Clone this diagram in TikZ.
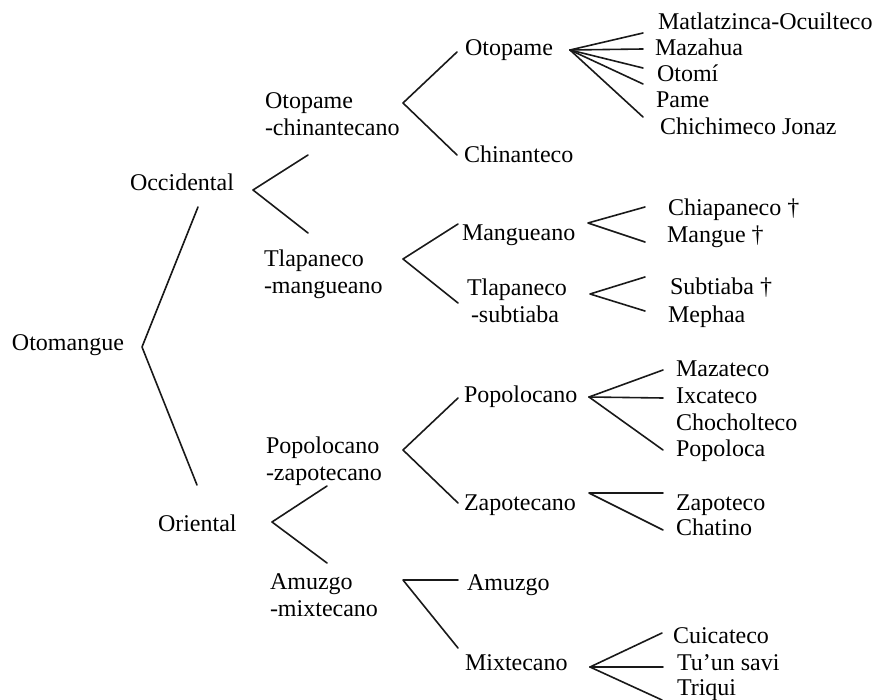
\documentclass[tikz,border=0pt]{standalone}
\usepackage{fontspec}
\setmainfont{Liberation Serif}
\begin{document}
\begin{tikzpicture}[x=1pt,y=-1pt,
  lbl/.style={inner sep=0pt,outer sep=0pt,anchor=base west,font=\fontsize{24}{27}\selectfont},
  lbl2/.style={inner sep=0pt,outer sep=0pt,anchor=west,align=left,font=\fontsize{24}{27}\selectfont},
  branch/.style={line width=1.6pt,line cap=round,line join=round,draw=black!90}]
\useasboundingbox (0,0) rectangle (883,700);

% ---- labels: family levels
\node[lbl] (otomangue) at (12,351) {Otomangue};
\node[lbl] (occidental) at (130,191) {Occidental};
\node[lbl] (oriental) at (158,531) {Oriental};
\node[lbl2] (otochin) at (265,114) {Otopame\\-chinantecano};
\node[lbl2] (tlaman) at (264,274.5) {Tlapaneco\\-mangueano};
\node[lbl2] (popzap) at (266,461.5) {Popolocano\\-zapotecano};
\node[lbl2] (amumix) at (270,595.5) {Amuzgo\\-mixtecano};
\node[lbl] (otopame) at (465,56) {Otopame};
\node[lbl] (chinanteco) at (464,163) {Chinanteco};
\node[lbl] (mangueano) at (462,241) {Mangueano};
\node[lbl2] (tlasub) at (467,301) {Tlapaneco\\\hspace{4pt}-subtiaba};
\node[lbl] (popolocano) at (464,402) {Popolocano};
\node[lbl] (zapotecano) at (464,510) {Zapotecano};
\node[lbl] (amuzgo) at (467,590) {Amuzgo};
\node[lbl] (mixtecano) at (465,670) {Mixtecano};

% ---- labels: languages
\node[lbl] (matlatzinca) at (658,30) {Matlatzinca-Ocuilteco};
\node[lbl] (mazahua) at (655,56) {Mazahua};
\node[lbl] (otomi) at (657,82) {Otomí};
\node[lbl] (pame) at (656,108) {Pame};
\node[lbl] (chichimeco) at (660,135) {Chichimeco Jonaz};
\node[lbl] (chiapaneco) at (668,216) {Chiapaneco †};
\node[lbl] (mangue) at (667,243) {Mangue †};
\node[lbl] (subtiaba) at (670,295) {Subtiaba †};
\node[lbl] (mephaa) at (668,323) {Mephaa};
\node[lbl] (mazateco) at (676,376) {Mazateco};
\node[lbl] (ixcateco) at (676,403) {Ixcateco};
\node[lbl] (chocholteco) at (676,430) {Chocholteco};
\node[lbl] (popoloca) at (676,456) {Popoloca};
\node[lbl] (zapoteco) at (676,510) {Zapoteco};
\node[lbl] (chatino) at (676,535) {Chatino};
\node[lbl] (cuicateco) at (673,643) {Cuicateco};
\node[lbl] (tunsavi) at (677,670) {Tu’un savi};
\node[lbl] (triqui) at (677,695) {Triqui};

% ---- branch points and branch ends
\coordinate (vOtomangue) at (142,347);
\coordinate (eOccidental) at (198,207);
\coordinate (eOriental) at (197,485);
\coordinate (vOccidental) at (253,190);
\coordinate (eOtochin) at (308,155);
\coordinate (eTlaman) at (308,233);
\coordinate (vOriental) at (272,522);
\coordinate (ePopzap) at (327,486);
\coordinate (eAmumix) at (327,563);
\coordinate (vOtochin) at (403,103);
\coordinate (eOtopame) at (457,52);
\coordinate (eChinanteco) at (457,155);
\coordinate (vOtopame) at (570,50);
\coordinate (eMatlatzinca) at (643,33);
\coordinate (eMazahua) at (643,49);
\coordinate (eOtomi) at (643,68);
\coordinate (ePame) at (643,84);
\coordinate (eChichimeco) at (643,117);
\coordinate (vTlaman) at (403,259);
\coordinate (eMangueano) at (458,224);
\coordinate (eTlasub) at (458,303);
\coordinate (vMangueano) at (588,223);
\coordinate (eChiapaneco) at (645,207);
\coordinate (eMangue) at (645,242);
\coordinate (vTlasub) at (590,294);
\coordinate (eSubtiaba) at (645,277);
\coordinate (eMephaa) at (645,311);
\coordinate (vPopzap) at (403,450);
\coordinate (ePopolocano) at (458,398);
\coordinate (eZapotecano) at (458,503);
\coordinate (vPopolocano) at (589,397);
\coordinate (eMazateco) at (663,370);
\coordinate (eIxcateco) at (663,398);
\coordinate (ePopoloca) at (663,450);
\coordinate (vZapotecano) at (589,493);
\coordinate (eZapoteco) at (663,493);
\coordinate (eChatino) at (663,530);
\coordinate (vAmumix) at (403,580);
\coordinate (eAmuzgo) at (458,580);
\coordinate (eMixtecano) at (458,648);
\coordinate (vMixtecano) at (590,667);
\coordinate (eCuicateco) at (662,633);
\coordinate (eTunsavi) at (663,667);
\coordinate (eTriqui) at (662,700);

% ---- branches
\draw[branch] (eOccidental) -- (vOtomangue) -- (eOriental);
\draw[branch] (eOtochin) -- (vOccidental) -- (eTlaman);
\draw[branch] (ePopzap) -- (vOriental) -- (eAmumix);
\draw[branch] (eOtopame) -- (vOtochin) -- (eChinanteco);
\foreach \e in {eMatlatzinca,eMazahua,eOtomi,ePame,eChichimeco}
  \draw[branch] (vOtopame) -- (\e);
\draw[branch] (eMangueano) -- (vTlaman) -- (eTlasub);
\draw[branch] (eChiapaneco) -- (vMangueano) -- (eMangue);
\draw[branch] (eSubtiaba) -- (vTlasub) -- (eMephaa);
\draw[branch] (ePopolocano) -- (vPopzap) -- (eZapotecano);
\foreach \e in {eMazateco,eIxcateco,ePopoloca}
  \draw[branch] (vPopolocano) -- (\e);
\draw[branch] (eZapoteco) -- (vZapotecano) -- (eChatino);
\draw[branch] (eAmuzgo) -- (vAmumix) -- (eMixtecano);
\foreach \e in {eCuicateco,eTunsavi,eTriqui}
  \draw[branch] (vMixtecano) -- (\e);
\end{tikzpicture}
\end{document}
